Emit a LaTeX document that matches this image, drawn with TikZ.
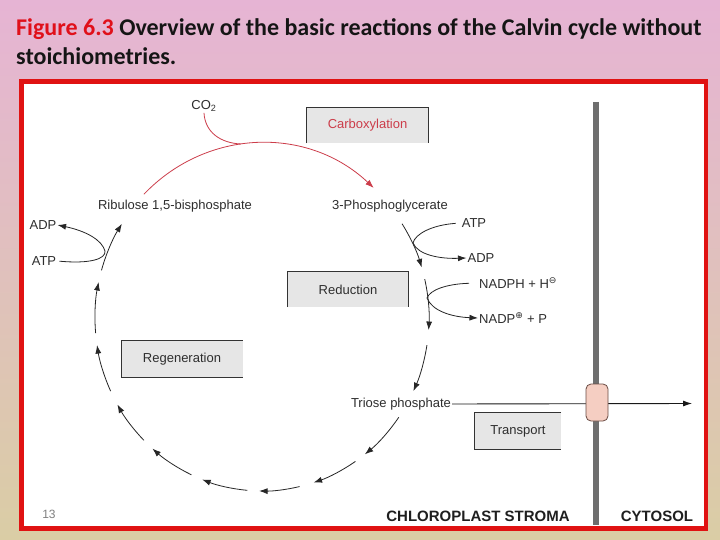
\documentclass[tikz,border=0pt]{standalone}
\usepackage{fontspec}
\setmainfont{Liberation Sans}
\newfontfamily\titlefont{Carlito}
\newfontfamily\dejavu{DejaVu Sans}
\usetikzlibrary{arrows.meta,calc}
\definecolor{bgtop}{HTML}{E6B4D4}
\definecolor{bgmid}{HTML}{E2C4C6}
\definecolor{bgbot}{HTML}{DACDA5}
\definecolor{framered}{HTML}{E01212}
\definecolor{boxgray}{HTML}{E6E6E6}
\definecolor{txtgray}{HTML}{2E2E2E}
\definecolor{carbred}{HTML}{CC3D4A}
\definecolor{memgray}{HTML}{6E6E6E}
\definecolor{trfill}{HTML}{F5CEC2}
\definecolor{trdraw}{HTML}{6B4C44}
\definecolor{titlered}{HTML}{E0101A}
\definecolor{titleblack}{HTML}{151515}
\begin{document}
\begin{tikzpicture}[x=1pt,y=-1pt,
 lbl/.style={font=\fontsize{13}{15}\selectfont, text=txtgray, inner sep=1pt},
 procbox/.style={fill=boxgray, minimum width=121pt, minimum height=35pt, inner sep=0pt, font=\fontsize{13}{15}\selectfont, text=txtgray},
 boxedge/.style={draw=black!80, line width=0.9pt},
 cyc/.style={draw=black!85, line width=0.8pt, -{Latex[length=8.5pt,width=6pt]}},
 side/.style={draw=black!85, line width=0.8pt, -{Latex[length=8.5pt,width=6pt]}},
 redarc/.style={draw=carbred, line width=0.8pt},
 boldlbl/.style={font=\fontsize{15}{17}\selectfont\bfseries, text=black!88, inner sep=0pt},
]
\shade[top color=bgtop, middle color=bgmid, bottom color=bgbot] (0,0) rectangle (720,540);
\useasboundingbox (0,0) rectangle (720,540);

% title
\node[anchor=base west, inner sep=0pt, text=titleblack, font=\titlefont\bfseries\fontsize{24}{28}\selectfont] (t1) at (16,36) {\textcolor{titlered}{Figure 6.3} Overview of the basic reactions of the Calvin cycle without};
\node[anchor=base west, inner sep=0pt, text=titleblack, font=\titlefont\bfseries\fontsize{24}{28}\selectfont] (t2) at (16,65) {stoichiometries.};

% frame
\draw[framered, line width=4.5pt, fill=white] (21.5,81.5) rectangle (706,528.5);

% membrane
\coordinate (memtop) at (596,102);
\coordinate (membot) at (596,525);
\draw[memgray, line width=6pt] (memtop) -- (membot);

% labels
\node[lbl] (co2) at (204,106) {CO\textsubscript{2}};
\node[lbl] (rubp) at (175,206) {Ribulose 1,5-bisphosphate};
\node[lbl] (pga) at (390,206) {3-Phosphoglycerate};
\node[lbl] (adpL) at (43,225) {ADP};
\node[lbl] (atpL) at (44,261) {ATP};
\node[lbl] (atpR) at (474,223) {ATP};
\node[lbl] (adpR) at (481,258) {ADP};
\node[lbl, anchor=west] (nadph) at (478,283) {NADPH + H\textsuperscript{\dejavu ⊖}};
\node[lbl, anchor=west] (nadp) at (478,318) {NADP\textsuperscript{\dejavu ⊕} + P};
\node[lbl] (triose) at (401,404) {Triose phosphate};

% boxes
\node[procbox, text=carbred] (carbox) at (367.5,125.5) {Carboxylation};
\draw[boxedge] (carbox.south west) -- (carbox.north west) -- (carbox.north east) -- (carbox.south east);
\node[procbox] (reduc) at (348,289.5) {Reduction};
\draw[boxedge] (reduc.south west) -- (reduc.north west) -- (reduc.north east) -- (reduc.south east);
\node[procbox, minimum height=36pt] (regen) at (182,359) {Regeneration};
\draw[boxedge] (regen.north east) -- (regen.north west) -- (regen.south west) -- (regen.south east);
\node[procbox, minimum width=86pt, minimum height=36pt] (transp) at (518,431) {Transport};
\draw[boxedge] (transp.north east) -- (transp.north west) -- (transp.south west) -- (transp.south east);

% cycle
\coordinate (c) at (262,318);
\draw[redarc, -{Latex[length=8.5pt,width=6pt]}, fill=none] ($(c)+(225:167 and 175)$) arc[start angle=225, end angle=312, x radius=167, y radius=175];
\draw[redarc] (co2.south) .. controls (205,132) and (220,143) .. (241,144);
\foreach \a/\b in {327/343, 347/364, 9/25, 35/52, 56/72, 77/91, 95/111, 115/131, 135/150, 155/171, 175/192, 196/213}
  \draw[cyc] ($(c)+(\a:167 and 173)$) arc[start angle=\a, end angle=\b, x radius=167, y radius=173];

% side reactions
\draw[side, shorten <=2pt] (atpL.east) .. controls (90,264) and (106,259) .. (105,251) .. controls (102,240) and (86,231) .. (adpL.east);
\draw[side, shorten <=5pt] (atpR.west) .. controls (432,225) and (415,234) .. (413,243) .. controls (418,255) and (440,259) .. (adpR.west);
\draw[side, shorten <=9pt] (nadph.west) .. controls (446,284) and (430,290) .. (427,298) .. controls (432,311) and (452,317) .. (nadp.west);

% transport
\coordinate (tend) at (692,403.5);
\draw[black!90, line width=0.9pt, -{Latex[length=9pt,width=6pt]}] (triose.east) -- (tend);
\node[draw=trdraw, fill=trfill, rounded corners=5pt, minimum width=22pt, minimum height=37pt, inner sep=0pt, line width=0.8pt] (tr) at (597,402.5) {};

% bottom labels
\node[boldlbl] (stroma) at (478,516) {CHLOROPLAST STROMA};
\node[boldlbl] (cytosol) at (657,516) {CYTOSOL};
\node[lbl, text=black!50, font=\fontsize{12}{14}\selectfont] (pnum) at (49,514) {13};
\end{tikzpicture}
\end{document}
